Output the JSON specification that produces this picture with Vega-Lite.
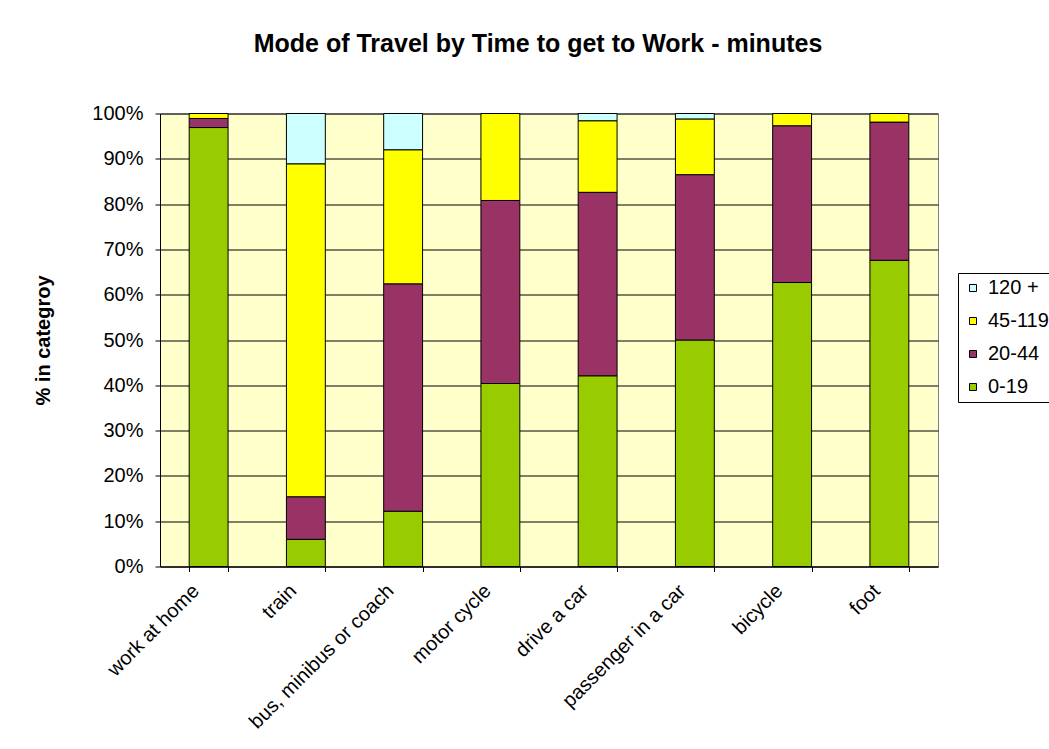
{
  "$schema": "https://vega.github.io/schema/vega-lite/v6.json",
  "width": 778,
  "height": 453,
  "autosize": {"type": "none"},
  "padding": {"left": 160, "top": 113.5, "right": 111, "bottom": 182.5},
  "background": "white",
  "title": {
    "text": "Mode of Travel by Time to get to Work - minutes",
    "font": "Liberation Sans",
    "fontSize": 25,
    "fontWeight": "bold",
    "color": "#000000",
    "anchor": "middle",
    "dx": -11,
    "offset": 47
  },
  "data": {
    "values": [
      {"mode": "work at home", "band": "0-19", "pct": 96.9},
      {"mode": "work at home", "band": "20-44", "pct": 2.0},
      {"mode": "work at home", "band": "45-119", "pct": 1.1},
      {"mode": "train", "band": "0-19", "pct": 6.0},
      {"mode": "train", "band": "20-44", "pct": 9.4},
      {"mode": "train", "band": "45-119", "pct": 73.5},
      {"mode": "train", "band": "120 +", "pct": 11.1},
      {"mode": "bus, minibus or coach", "band": "0-19", "pct": 12.2},
      {"mode": "bus, minibus or coach", "band": "20-44", "pct": 50.2},
      {"mode": "bus, minibus or coach", "band": "45-119", "pct": 29.6},
      {"mode": "bus, minibus or coach", "band": "120 +", "pct": 8.0},
      {"mode": "motor cycle", "band": "0-19", "pct": 40.4},
      {"mode": "motor cycle", "band": "20-44", "pct": 40.4},
      {"mode": "motor cycle", "band": "45-119", "pct": 19.2},
      {"mode": "drive a car", "band": "0-19", "pct": 42.1},
      {"mode": "drive a car", "band": "20-44", "pct": 40.5},
      {"mode": "drive a car", "band": "45-119", "pct": 15.8},
      {"mode": "drive a car", "band": "120 +", "pct": 1.6},
      {"mode": "passenger in a car", "band": "0-19", "pct": 50.0},
      {"mode": "passenger in a car", "band": "20-44", "pct": 36.5},
      {"mode": "passenger in a car", "band": "45-119", "pct": 12.3},
      {"mode": "passenger in a car", "band": "120 +", "pct": 1.2},
      {"mode": "bicycle", "band": "0-19", "pct": 62.7},
      {"mode": "bicycle", "band": "20-44", "pct": 34.6},
      {"mode": "bicycle", "band": "45-119", "pct": 2.7},
      {"mode": "foot", "band": "0-19", "pct": 67.6},
      {"mode": "foot", "band": "20-44", "pct": 30.5},
      {"mode": "foot", "band": "45-119", "pct": 1.9}
    ]
  },
  "transform": [
    {"calculate": "indexof(['0-19', '20-44', '45-119', '120 +'], datum.band)", "as": "stackRank"}
  ],
  "mark": {"type": "bar", "stroke": "#000000", "strokeWidth": 1},
  "encoding": {
    "x": {
      "field": "mode",
      "type": "nominal",
      "sort": ["work at home", "train", "bus, minibus or coach", "motor cycle", "drive a car", "passenger in a car", "bicycle", "foot"],
      "scale": {"paddingInner": 0.6, "paddingOuter": 0.3},
      "axis": {
        "title": null,
        "grid": false,
        "tickBand": "extent",
        "tickSize": 5,
        "tickColor": "#000000",
        "domainColor": "#000000",
        "labelAngle": -45,
        "labelAlign": "right",
        "labelBaseline": "middle",
        "labelPadding": 16,
        "labelOffset": -13,
        "labelOverlap": false,
        "labelLimit": 0,
        "labelFont": "Liberation Sans",
        "labelFontSize": 20,
        "labelColor": "#000000"
      }
    },
    "y": {
      "field": "pct",
      "type": "quantitative",
      "stack": "normalize",
      "scale": {"domain": [0, 1]},
      "axis": {
        "values": [0, 0.1, 0.2, 0.3, 0.4, 0.5, 0.6, 0.7, 0.8, 0.9, 1],
        "format": ".0%",
        "title": "% in categroy",
        "titleFont": "Liberation Sans",
        "titleFontSize": 20,
        "titleFontWeight": "bold",
        "titleColor": "#000000",
        "titlePadding": 38,
        "grid": true,
        "gridColor": "#000000",
        "gridWidth": 1,
        "tickSize": 5,
        "tickColor": "#000000",
        "domainColor": "#000000",
        "labelPadding": 12,
        "labelFont": "Liberation Sans",
        "labelFontSize": 20,
        "labelColor": "#000000"
      }
    },
    "order": {"field": "stackRank", "type": "quantitative", "sort": "ascending"},
    "color": {
      "field": "band",
      "type": "nominal",
      "scale": {
        "domain": ["120 +", "45-119", "20-44", "0-19"],
        "range": ["#CCFFFF", "#FFFF00", "#993366", "#99CC00"]
      },
      "legend": {
        "title": null,
        "orient": "none",
        "legendX": 798,
        "legendY": 159.5,
        "strokeColor": "#000000",
        "fillColor": "#FFFFFF",
        "padding": 5,
        "symbolType": "square",
        "symbolSize": 49,
        "symbolStrokeColor": "#000000",
        "symbolStrokeWidth": 1,
        "symbolOpacity": 1,
        "labelFont": "Liberation Sans",
        "labelFontSize": 20,
        "labelColor": "#000000",
        "labelOffset": 5,
        "rowPadding": 13
      }
    }
  },
  "config": {
    "view": {"fill": "#FFFFCC", "stroke": "#808080"},
    "axis": {"domainWidth": 1, "tickWidth": 1}
  }
}
